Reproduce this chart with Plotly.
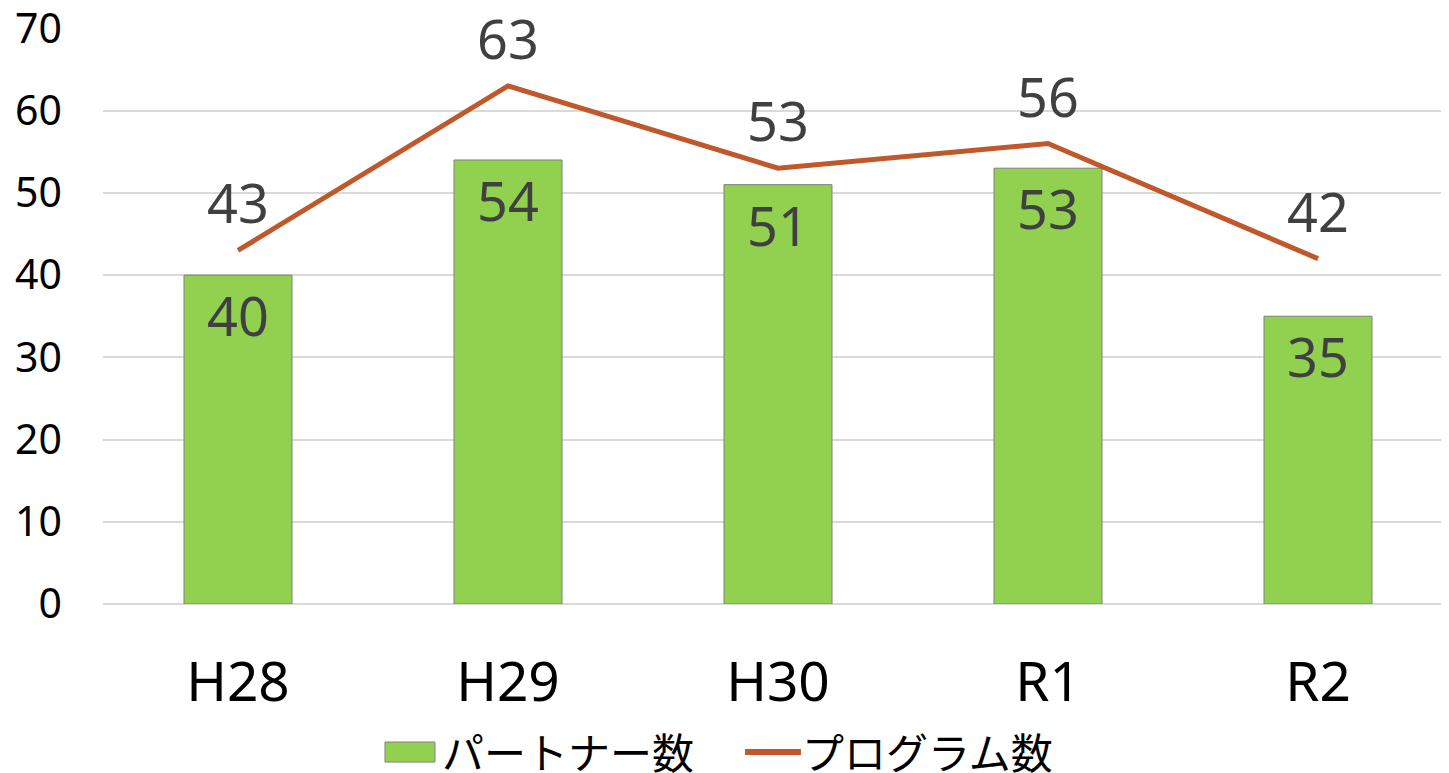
import plotly.graph_objects as go

categories = ["H28", "H29", "H30", "R1", "R2"]
partners = [40, 54, 51, 53, 35]
programs = [43, 63, 53, 56, 42]
y_ticks = [0, 10, 20, 30, 40, 50, 60, 70]

font_family = "Noto Sans, Noto Sans CJK JP, sans-serif"
bar_color = "#92D050"
line_color = "#C0582B"

fig = go.Figure()

fig.add_trace(go.Bar(
    x=categories, y=partners, name="パートナー数",
    marker=dict(color=bar_color, line=dict(color="#808080", width=1)),
    width=0.4,
    text=partners, textposition="inside", insidetextanchor="end",
    textfont=dict(size=54, color="#404040", family=font_family),
    cliponaxis=False,
))

fig.add_trace(go.Scatter(
    x=categories, y=programs, name="プログラム数",
    mode="lines+markers+text",
    line=dict(color=line_color, width=5),
    marker=dict(size=20, color="rgba(0,0,0,0)"),
    text=programs, textposition="top center",
    textfont=dict(size=54, color="#404040", family=font_family),
    cliponaxis=False,
))

# legend drawn by hand so the swatches match the original size
leg_y = -0.257
fig.add_shape(type="rect", xref="paper", yref="paper",
              x0=0.2089, x1=0.2459, y0=leg_y - 0.0174, y1=leg_y + 0.0174,
              fillcolor=bar_color, line=dict(color="#808080", width=1))
fig.add_shape(type="line", xref="paper", yref="paper",
              x0=0.4756, x1=0.5170, y0=leg_y, y1=leg_y,
              line=dict(color=line_color, width=6))
fig.add_annotation(xref="paper", yref="paper", x=0.2496, y=leg_y,
                   text="パートナー数", showarrow=False,
                   xanchor="left", yanchor="middle",
                   font=dict(size=42, color="#000000", family=font_family))
fig.add_annotation(xref="paper", yref="paper", x=0.5163, y=leg_y,
                   text="プログラム数", showarrow=False,
                   xanchor="left", yanchor="middle",
                   font=dict(size=42, color="#000000", family=font_family))

fig.update_layout(
    width=1449, height=773,
    margin=dict(l=95, r=4, t=20, b=177, autoexpand=False),
    plot_bgcolor="white", paper_bgcolor="white",
    font=dict(family=font_family, color="#000000"),
    showlegend=False,
    xaxis=dict(
        tickfont=dict(size=55), ticklabelstandoff=41, automargin=False,
        showgrid=False, showline=False, zeroline=False,
    ),
    yaxis=dict(
        range=[0, 70.05], tickvals=y_ticks, automargin=False,
        tickfont=dict(size=41), ticklabelstandoff=40,
        ticklabeloverflow="allow",
        showgrid=True, gridcolor="#D9D9D9", gridwidth=1.5,
        zeroline=True, zerolinecolor="#D9D9D9", zerolinewidth=1.5,
        showline=False,
    ),
)

fig.write_html("out.html")
